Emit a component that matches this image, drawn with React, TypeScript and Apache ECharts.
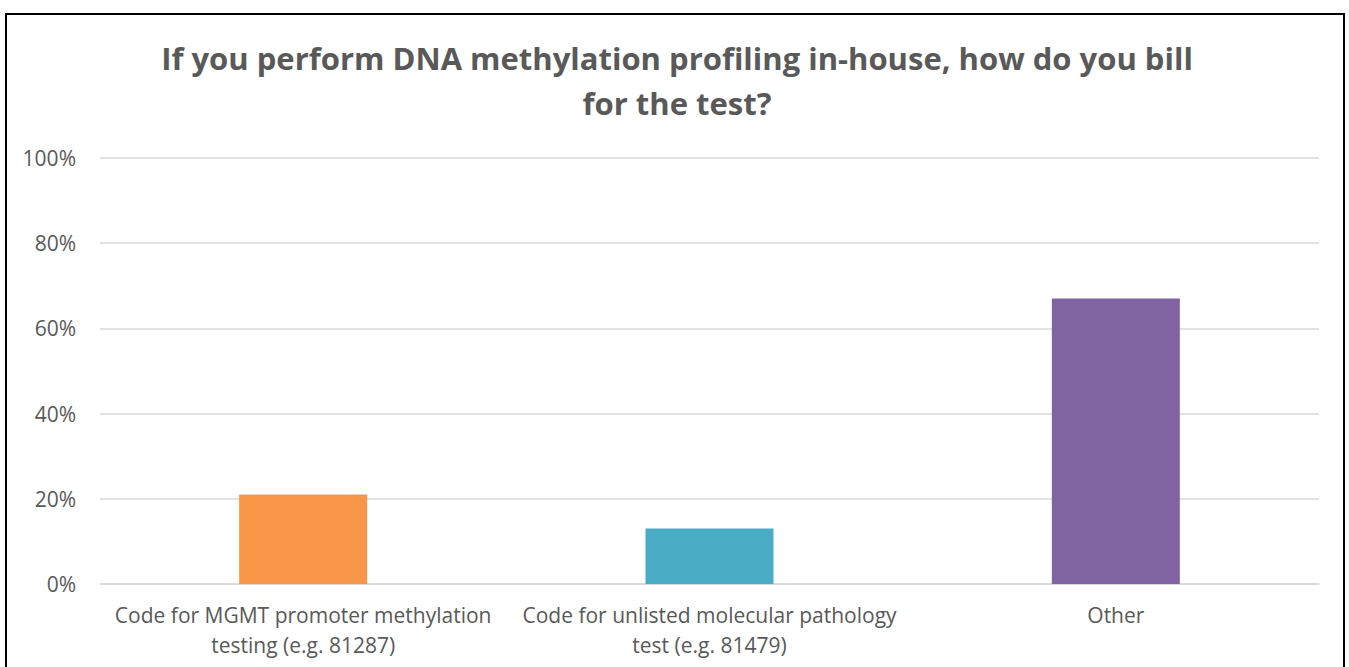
import React, { useEffect, useRef } from "react";
import * as echarts from "echarts";

const titleLines = [
  "If you perform DNA methylation profiling in-house, how do you bill",
  "for the test?",
];
const categories = [
  "Code for MGMT promoter methylation\ntesting (e.g. 81287)",
  "Code for unlisted molecular pathology\ntest (e.g. 81479)",
  "Other",
];
const values = [21, 13, 67];
const barColors = ["#F79646", "#4BACC6", "#8064A2"];
const yTicks = [0, 20, 40, 60, 80, 100];

export default function App() {
  const ref = useRef<HTMLDivElement>(null);
  useEffect(() => {
    if (!ref.current) return;
    const chart = echarts.init(ref.current, undefined, { renderer: "svg" });
    const font = "'Open Sans', 'Liberation Sans', sans-serif";
    chart.setOption({
      animation: false,
      backgroundColor: "#ffffff",
      graphic: [
        ...titleLines.map((t, i) => ({
          type: "text",
          x: 677,
          y: 58 + i * 45,
          silent: true,
          style: {
            text: t,
            fontFamily: font,
            fontWeight: "bold",
            fontSize: 31,
            fill: "#595959",
            textAlign: "center",
            textVerticalAlign: "middle",
          },
        })),
        {
          type: "rect",
          shape: { x: 6, y: 14, width: 1338, height: 700 },
          style: { fill: "none", stroke: "#000000", lineWidth: 2 },
          silent: true,
          z: 100,
        },
      ],
      grid: { left: 100, right: 30, top: 158, bottom: 83, containLabel: false },
      xAxis: {
        type: "category",
        data: categories,
        axisLine: { show: true, lineStyle: { color: "#d9d9d9", width: 1.5 } },
        axisTick: { show: false },
        axisLabel: {
          fontFamily: font,
          fontSize: 21,
          color: "#595959",
          lineHeight: 30,
          margin: 16,
          interval: 0,
        },
      },
      yAxis: {
        type: "value",
        min: yTicks[0],
        max: yTicks[yTicks.length - 1],
        interval: 20,
        axisLine: { show: false },
        axisTick: { show: false },
        axisLabel: {
          formatter: "{value}%",
          fontFamily: font,
          fontSize: 21,
          color: "#595959",
          margin: 24,
        },
        splitLine: { lineStyle: { color: "#d9d9d9", width: 1.5 } },
      },
      series: [
        {
          type: "bar",
          data: values.map((v, i) => ({ value: v, itemStyle: { color: barColors[i] } })),
          barWidth: "31.5%",
        },
      ],
    });
    return () => chart.dispose();
  }, []);
  return (
    <div
      ref={ref}
      style={{ position: "absolute", left: 0, top: 0, width: 1349, height: 667 }}
    />
  );
}
